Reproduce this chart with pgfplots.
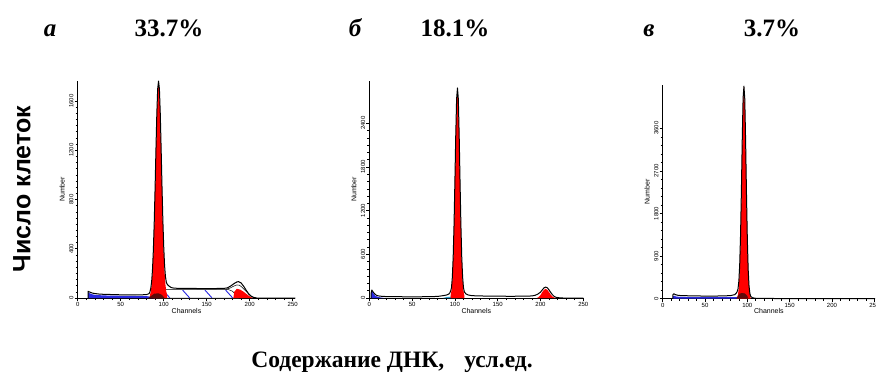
\documentclass[border=0pt]{standalone}
\usepackage{fontspec}
\setmainfont{Liberation Serif}
\newfontfamily\arial{Liberation Sans}
\usepackage{pgfplots}
\pgfplotsset{compat=1.18}

\definecolor{gone}{RGB}{255,0,0}
\definecolor{debris}{RGB}{40,40,225}
\definecolor{overlap}{RGB}{95,10,10}

\pgfplotsset{
  flow/.style={
    scale only axis,
    axis x line*=bottom, axis y line*=left,
    xmin=0, ymin=0,
    xtick={0,50,...,250},
    minor x tick num=4,
    tick align=outside,
    major tick length=3pt, minor tick length=2pt,
    every tick/.style={black, line width=0.6pt},
    axis line style={black, line width=0.8pt},
    /pgf/number format/assume math mode=true,
    /pgf/number format/1000 sep={},
    scaled y ticks=false,
    tick label style={font=\arial\fontsize{6}{6}\selectfont},
    yticklabel style={rotate=90, anchor=south, inner sep=1pt},
    xticklabel style={inner sep=1.5pt},
    xlabel={Channels}, ylabel={Number},
    label style={font=\arial\fontsize{7}{7}\selectfont},
    xlabel style={yshift=4pt},
    ylabel style={yshift=0pt},
    clip=false,
  },
  total/.style={draw=black, line width=1.0pt, line join=round},
  thin/.style={draw=black, line width=0.5pt, line join=round},
}

\begin{document}
\begin{tikzpicture}
\path[use as bounding box] (0,0) rectangle (876pt,378pt);

% ---------------- panel a ----------------
\begin{axis}[flow, at={(77.7pt,80pt)}, anchor=south west,
  width=217.6pt, height=217.3pt, xmax=253, ymax=1765,
  ytick={0,400,...,1600}, minor y tick num=7]
% S phase region
\addplot[thin, fill=white] coordinates {(88,0)(92,30)(97,55)(100,69)(175,69)(180,55)(184,25)(187,0)} -- cycle;
\addplot[debris, line width=0.9pt] coordinates {(99,64)(107,2)};
\addplot[debris, line width=0.9pt] coordinates {(122,64)(130,2)};
\addplot[debris, line width=0.9pt] coordinates {(148,64)(156,2)};
\addplot[debris, line width=0.9pt] coordinates {(172,64)(180,2)};
% debris
\addplot[fill=debris, draw=none] coordinates {(12,0)(12,45)(14,38)(17,30)(20,25)(30,21)(40,19)(50,18)(60,17)(70,16)(80,15)(86,10)(90,0)} -- cycle;
% G0/G1
\addplot[fill=gone, draw=none] coordinates {(84,0)(84,23)(85,52)(86,110)(87,210)(88,368)(89,593)(90,875)(91,1185)(92,1472)(93,1676)(94,1750)(95,1676)(96,1472)(97,1185)(98,875)(99,593)(100,368)(101,210)(102,110)(103,52)(104,23)(104,0)} -- cycle;
\addplot[fill=overlap, draw=none] coordinates {(82,0)(85,15)(89,35)(94,38)(98,25)(101,0)} -- cycle;
% G2/M
\addplot[fill=gone, draw=none] coordinates {(181,0)(182,50)(185,75)(189,68)(193,50)(197,28)(201,8)(204,0)} -- cycle;
\addplot[thin] coordinates {(172,70)(177,80)(181,95)(185,106)(188,104)(191,88)(195,60)(199,30)(203,10)(207,0)};
% histogram
\addplot[total] coordinates {(12,0)(12,55)(14,48)(17,40)(20,36)(25,32)(30,30)(35,29)(40,28)(45,27)(50,26)(55,26)(60,25)(65,25)(70,26)(75,26)(80,28)(83,35)(84,50)(85,80)(86,135)(87,235)(88,395)(89,620)(90,900)(91,1210)(92,1497)(93,1700)(94,1762)(95,1700)(96,1500)(97,1215)(98,910)(99,635)(100,420)(101,265)(102,175)(103,130)(104,112)(106,98)(108,88)(110,82)(115,79)(120,78)(130,78)(140,77)(150,77)(160,77)(170,78)(174,82)(178,98)(182,118)(185,130)(187,133)(190,122)(193,95)(196,62)(199,32)(202,12)(205,4)(208,0)(253,0)};
\end{axis}

% ---------------- panel b ----------------
\begin{axis}[flow, at={(369.3pt,80pt)}, anchor=south west,
  width=214pt, height=217.3pt, xmax=250, ymax=2985,
  ytick={0,600,...,2400}, minor y tick num=5]
\addplot[fill=debris, draw=none] coordinates {(2,0)(2,60)(3,100)(5,60)(7,30)(10,15)(14,5)(18,0)} -- cycle;
\addplot[fill=cyan!80!black, draw=none] coordinates {(86,0)(90,12)(95,18)(100,10)(102,0)} -- cycle;
\addplot[fill=gone, draw=none] coordinates {(95,0)(95,36)(96,100)(97,244)(98,519)(99,961)(100,1553)(101,2189)(102,2690)(103,2880)(104,2690)(105,2189)(106,1553)(107,961)(108,519)(109,244)(110,100)(111,36)(111,0)} -- cycle;
\addplot[fill=gone, draw=none] coordinates {(196,0)(198,15)(200,40)(202,80)(204,112)(206,125)(208,112)(210,80)(212,45)(214,20)(216,6)(218,0)} -- cycle;
\addplot[total] coordinates {(2,0)(2,60)(3,110)(4,90)(6,60)(8,40)(10,30)(15,22)(20,20)(30,18)(40,17)(50,17)(60,17)(70,18)(80,22)(85,30)(90,40)(93,55)(94,70)(95,95)(96,140)(97,285)(98,565)(99,1010)(100,1600)(101,2235)(102,2735)(103,2885)(104,2735)(105,2235)(106,1600)(107,1010)(108,565)(109,290)(110,145)(111,85)(113,55)(116,40)(120,32)(130,28)(140,26)(150,25)(160,24)(170,24)(180,25)(190,28)(194,38)(197,55)(200,80)(202,110)(204,138)(206,150)(208,140)(210,110)(212,75)(214,45)(216,22)(218,10)(222,3)(226,0)(250,0)};
\end{axis}

% ---------------- panel c ----------------
\begin{axis}[flow, at={(662.7pt,79.3pt)}, anchor=south west,
  width=212.4pt, height=213.7pt, xmax=251, ymax=4515,
  ytick={0,900,...,3600}, minor y tick num=4]
\addplot[fill=debris, draw=none] coordinates {(12,0)(12,55)(14,60)(16,45)(20,38)(30,35)(40,33)(50,32)(60,31)(70,31)(80,33)(88,35)(90,0)} -- cycle;
\addplot[fill=gone, draw=none] coordinates {(88,0)(88,27)(89,89)(90,251)(91,606)(92,1245)(93,2180)(94,3253)(95,4135)(96,4480)(97,4135)(98,3253)(99,2180)(100,1245)(101,606)(102,251)(103,89)(104,27)(104,0)} -- cycle;
\addplot[fill=overlap, draw=none] coordinates {(87,0)(89,60)(91,110)(94,120)(97,110)(100,60)(101,0)} -- cycle;
\addplot[total] coordinates {(12,0)(12,80)(13,105)(15,85)(18,72)(22,65)(30,62)(40,58)(50,56)(60,56)(70,58)(80,65)(85,85)(87,120)(88,150)(89,210)(90,370)(91,720)(92,1350)(93,2290)(94,3360)(95,4240)(96,4490)(97,4220)(98,3310)(99,2220)(100,1270)(101,620)(102,270)(103,110)(104,50)(106,20)(110,8)(120,5)(150,3)(200,2)(251,0)};
\end{axis}

% panel letters and percentages
\begin{scope}[every node/.style={anchor=base, inner sep=0pt}]
\node[font=\fontsize{25}{25}\selectfont\bfseries\itshape] at (50pt,341pt) {а};
\node[font=\fontsize{25}{25}\selectfont\bfseries] at (169pt,341pt) {33.7\%};
\node[font=\fontsize{25}{25}\selectfont\bfseries\itshape] at (355pt,341pt) {б};
\node[font=\fontsize{25}{25}\selectfont\bfseries] at (455pt,341pt) {18.1\%};
\node[font=\fontsize{25}{25}\selectfont\bfseries\itshape] at (649pt,341pt) {в};
\node[font=\fontsize{25}{25}\selectfont\bfseries] at (772pt,341pt) {3.7\%};
\end{scope}

% common axis titles
\node[font=\arial\fontsize{25}{25}\selectfont\bfseries, rotate=90, inner sep=0pt] at (22pt,189pt) {Число клеток};
\node[font=\fontsize{23.5}{23.5}\selectfont\bfseries, inner sep=0pt] at (392pt,16pt) {Содержание ДНК,\hspace{0.6em} усл.ед.};
\end{tikzpicture}
\end{document}
